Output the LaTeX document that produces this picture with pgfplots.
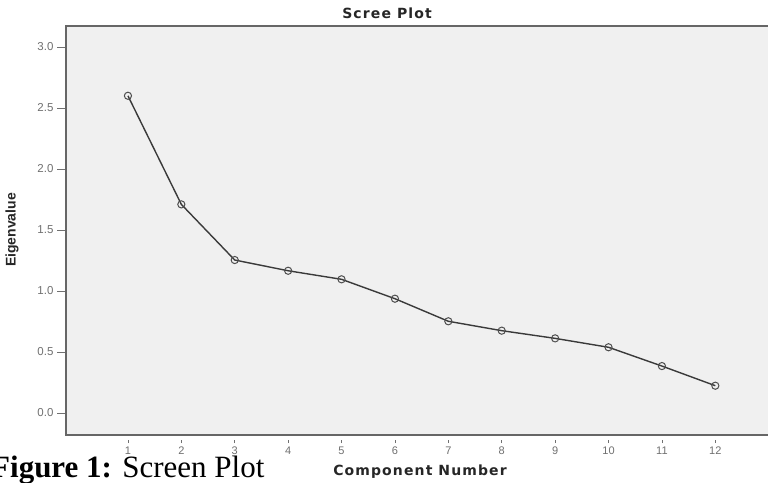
\documentclass[border=0pt]{standalone}
\usepackage{fontspec}
\setmainfont{Liberation Sans}
\newfontfamily\capfont{Liberation Serif}
\newfontfamily\spssbold[LetterSpace=8]{DejaVu Sans}
\usepackage{pgfplots}
\pgfplotsset{compat=1.18}
\definecolor{bgc}{HTML}{F0F0F0}
\definecolor{linec}{HTML}{3A3A3A}
\definecolor{tickc}{HTML}{707070}
\begin{document}
\begin{tikzpicture}
\useasboundingbox (0bp,0bp) rectangle (768bp,483bp);
\clip (0bp,0bp) rectangle (768bp,483bp);
\fill[white] (0bp,0bp) rectangle (768bp,483bp);
\begin{axis}[
  at={(66bp,48bp)}, anchor=south west,
  scale only axis, width=713.4bp, height=409bp,
  xmin=-0.16, xmax=13.2, ymin=-0.18, ymax=3.172,
  axis background/.style={fill=bgc},
  axis line style={draw=black!60, line width=1.2bp},
  xtick={1,...,12}, ytick={0,0.5,...,3},
  tick align=outside, major tick length=9bp,
  ytick style={draw=tickc, line width=0.9bp},
  xtick style={draw=none},
  xticklabel={\shortstack{\rule{0.8bp}{3.5bp}\\[0.5bp]\pgfmathprintnumber{\tick}}},
  x tick label style={font=\fontsize{11bp}{12bp}\selectfont, text=tickc, yshift=8bp},
  y tick label style={font=\fontsize{11.5bp}{12bp}\selectfont, text=tickc},
  yticklabel style={/pgf/number format/.cd, fixed, fixed zerofill, precision=1},
  /pgf/number format/assume math mode=true,
]
\addplot[color=linec, line width=1.4bp, mark=o, mark size=3.6bp,
  mark options={fill=black!12, draw=linec!90, line width=1bp}] coordinates {
  (1,2.60) (2,1.71) (3,1.254) (4,1.166) (5,1.096) (6,0.937)
  (7,0.752) (8,0.675) (9,0.612) (10,0.539) (11,0.385) (12,0.224)
};
\end{axis}
\node[font=\spssbold\bfseries\fontsize{14bp}{16bp}\selectfont, text=black!85] at (387bp,470bp) {Scree Plot};
\node[font=\spssbold\bfseries\fontsize{14bp}{16bp}\selectfont, text=black!85] at (420bp,11bp) {Component Number};
\node[rotate=90, font=\bfseries\fontsize{14bp}{15bp}\selectfont, text=black!85] at (12bp,253bp) {Eigenvalue};
\node[anchor=base west, inner sep=0pt, font=\capfont\fontsize{31bp}{36bp}\selectfont] at (-9bp,6bp) {\textbf{Figure 1:} Screen Plot};
\end{tikzpicture}
\end{document}
